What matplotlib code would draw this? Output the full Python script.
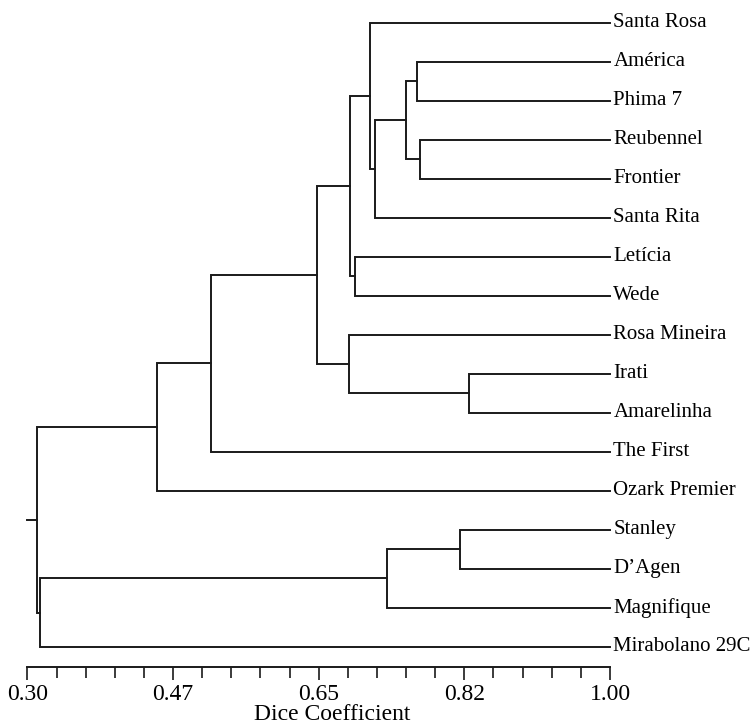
import matplotlib
matplotlib.use("Agg")
import matplotlib.pyplot as plt
import numpy as np

# leaves, top to bottom
leaves = ["Santa Rosa", "América", "Phima 7", "Reubennel", "Frontier",
          "Santa Rita", "Letícia", "Wede", "Rosa Mineira", "Irati",
          "Amarelinha", "The First", "Ozark Premier", "Stanley", "D\u2019Agen",
          "Magnifique", "Mirabolano 29C"]

# merges: (left, right, similarity); ids >= len(leaves) point to earlier merges
merge_left = [1, 3, 17, 19, 0, 6, 21, 9, 8, 23, 26, 27, 13, 29, 30, 28]
merge_right = [2, 4, 18, 5, 20, 7, 22, 10, 24, 25, 11, 12, 14, 15, 16, 31]
merge_height = [0.768, 0.772, 0.755, 0.717, 0.712, 0.694, 0.687, 0.831,
                0.686, 0.648, 0.520, 0.456, 0.820, 0.732, 0.315, 0.311]

ticks = [0.30, 0.475, 0.65, 0.825, 1.00]
tick_labels = ["0.30", "0.47", "0.65", "0.82", "1.00"]

plt.rcParams['font.family'] = ['Liberation Serif', 'DejaVu Serif']

fig = plt.figure(figsize=(7.54, 7.26), dpi=100)
ax = fig.add_axes([27.5 / 754, 59 / 726, 582.5 / 754, 667 / 726])

n = len(leaves)
node_x = {i: 1.0 for i in range(n)}
node_y = {i: float(i) for i in range(n)}

lc = "#1a1a1a"
for k, (a, b, h) in enumerate(zip(merge_left, merge_right, merge_height)):
    nid = n + k
    xs = [node_x[a], h, h, node_x[b]]
    ys = [node_y[a], node_y[a], node_y[b], node_y[b]]
    ax.plot(xs, ys, color=lc, lw=1.4, solid_joinstyle='miter', clip_on=False)
    node_x[nid] = h
    node_y[nid] = (node_y[a] + node_y[b]) / 2

# small stub on the root
root = n + len(merge_height) - 1
ax.plot([0.30, node_x[root]], [node_y[root]] * 2, color=lc, lw=1.4, clip_on=False)

for i, name in enumerate(leaves):
    ax.annotate(name, (1.0, i), xytext=(2.5, 0), textcoords='offset points',
                va='center', ha='left', fontsize=15, annotation_clip=False)

ax.set_xlim(0.30, 1.00)
ax.set_ylim(16.521, -0.582)

for s in ['top', 'left', 'right']:
    ax.spines[s].set_visible(False)
ax.spines['bottom'].set_linewidth(1.4)
ax.spines['bottom'].set_color(lc)
ax.spines['bottom'].set_bounds(0.30, 1.00)

ax.set_yticks([])
ax.set_xticks(ticks)
ax.set_xticklabels(tick_labels, fontsize=17)
ax.set_xticks(np.arange(0.30, 1.0001, 0.035), minor=True)
ax.tick_params(axis='x', which='major', length=9, width=1.2, color=lc, pad=3)
ax.tick_params(axis='x', which='minor', length=8, width=1.2, color=lc)

fig.text(332 / 754, 0.5 / 726, "Dice Coefficient", ha='center', va='bottom',
         fontsize=17)

fig.savefig("out.png", dpi=100)
